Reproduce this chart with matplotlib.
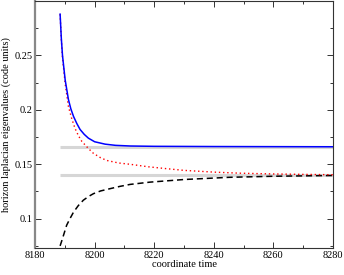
import matplotlib
matplotlib.use('Agg')
import matplotlib.pyplot as plt
from matplotlib.ticker import MultipleLocator

# blue solid curve
t_blue = [8188.4, 8188.8, 8189.2, 8190.1, 8191.2, 8192.0, 8192.9, 8194.0, 8195.1,
          8196.5, 8197.9, 8200, 8203.5, 8207, 8212, 8220, 8240, 8260, 8280]
v_blue = [0.288, 0.266, 0.250, 0.2275, 0.2094, 0.201, 0.194, 0.1875, 0.182,
          0.1775, 0.174, 0.1707, 0.1685, 0.1674, 0.1668, 0.1665, 0.1663, 0.1662, 0.1661]

# red dotted curve
t_red = [8188.4, 8188.8, 8189.2, 8190.1, 8191.2, 8192.3, 8193.4, 8194.6, 8195.7,
         8197.9, 8199.6, 8202, 8204.1, 8208, 8211.9, 8218, 8224, 8230, 8240, 8249,
         8260, 8270, 8280]
v_red = [0.288, 0.265, 0.248, 0.224, 0.203, 0.192, 0.183, 0.176, 0.171,
         0.1645, 0.1600, 0.1560, 0.1535, 0.1512, 0.1500, 0.1477, 0.1460, 0.1444, 0.1428,
         0.1418, 0.1411, 0.1407, 0.1404]

# black dashed curve
t_blk = [8188.4, 8189.0, 8189.8, 8190.6, 8191.7, 8192.9, 8194.5, 8196.2, 8198,
         8199.6, 8202, 8205.2, 8208.5, 8211.9, 8218.6, 8230, 8245, 8260, 8280]
v_blk = [0.075, 0.080, 0.087, 0.094, 0.100, 0.106, 0.112, 0.117, 0.1205,
         0.123, 0.1255, 0.1276, 0.1297, 0.1315, 0.1336, 0.1360, 0.1380, 0.1390, 0.1397]

# grey reference levels
ref_t = [8188.4, 8280]
ref_levels = [0.1663, 0.1400]

plt.rcParams['font.family'] = ['Liberation Serif', 'DejaVu Serif']
plt.rcParams['font.size'] = 7.5

fig = plt.figure(figsize=(3.44, 2.75), dpi=100)
ax = fig.add_axes([0.102, 0.098, 0.866, 0.898])

for lev in ref_levels:
    ax.plot(ref_t, [lev, lev], color='#d6d6d6', lw=2.2, solid_capstyle='butt', zorder=1)

ax.plot(t_blk, v_blk, color='black', lw=1.1, dashes=(4, 2.5), zorder=2)
ax.plot(t_red, v_red, color='red', lw=1.0, linestyle=(0, (1, 2)), zorder=3)
ax.plot(t_blue, v_blue, color='blue', lw=1.1, zorder=4)

ax.set_xlim(8180, 8280)
ax.set_ylim(0.073, 0.30)
ax.xaxis.set_major_locator(MultipleLocator(20))
ax.xaxis.set_minor_locator(MultipleLocator(10))
ax.yaxis.set_minor_locator(MultipleLocator(0.025))
ax.set_yticks([0.1, 0.15, 0.2, 0.25])
ax.set_yticklabels(['0.1', '0.15', '0.2', '0.25'])

ax.tick_params(which='both', direction='in', top=True, right=True, color='#333333', pad=2)
ax.tick_params(which='major', length=4, width=0.7)
ax.tick_params(which='minor', length=2.5, width=0.7)

for s in ['top', 'right', 'bottom']:
    ax.spines[s].set_color('#333333')
    ax.spines[s].set_linewidth(0.8)
ax.spines['left'].set_color('#888888')
ax.spines['left'].set_linewidth(1.6)

ax.set_xlabel('coordinate time', labelpad=0)
ax.set_ylabel('horizon laplacian eigenvalues (code units)', labelpad=2)

fig.savefig('out.png', dpi=100)
